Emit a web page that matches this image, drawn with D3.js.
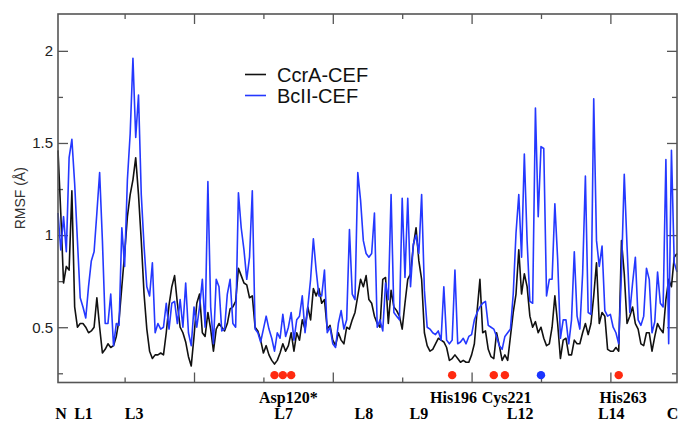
<!DOCTYPE html>
<html>
<head>
<meta charset="utf-8">
<script src="https://cdn.jsdelivr.net/npm/d3@7"></script>
<style>
  body { margin: 0; background: #fff; }
  svg { display: block; }
</style>
</head>
<body>
<script>
// RMSF per residue (residue 1..224)
var ccrA = [
  1.46, 1.12, 0.74, 0.83, 0.81, 1.24, 0.61, 0.50, 0.52, 0.52,
  0.50, 0.47, 0.48, 0.50, 0.66, 0.50, 0.36, 0.38, 0.41, 0.39,
  0.40, 0.45, 0.54, 0.72, 0.90, 1.10, 1.22, 1.30, 1.42, 1.22,
  0.97, 0.68, 0.49, 0.37, 0.33, 0.35, 0.35, 0.36, 0.35, 0.47,
  0.62, 0.72, 0.78, 0.63, 0.50, 0.47, 0.42, 0.34, 0.29, 0.45,
  0.63, 0.68, 0.47, 0.45, 0.58, 0.49, 0.37, 0.49, 0.52, 0.50,
  0.48, 0.52, 0.60, 0.61, 0.64, 0.82, 0.78, 0.74, 0.73, 0.66,
  0.67, 0.50, 0.48, 0.43, 0.36, 0.40, 0.35, 0.32, 0.30, 0.32,
  0.36, 0.41, 0.37, 0.40, 0.47, 0.37, 0.47, 0.43, 0.54, 0.49,
  0.61, 0.54, 0.71, 0.67, 0.71, 0.63, 0.65, 0.49, 0.51, 0.43,
  0.40, 0.47, 0.43, 0.41, 0.50, 0.49, 0.54, 0.58, 0.67, 0.76,
  0.72, 0.78, 0.65, 0.63, 0.56, 0.52, 0.50, 0.76, 0.77, 0.52,
  0.70, 0.61, 0.59, 0.56, 0.49, 0.63, 0.76, 0.79, 0.94, 1.04,
  0.86, 0.76, 0.47, 0.40, 0.37, 0.38, 0.41, 0.44, 0.43, 0.42,
  0.39, 0.32, 0.33, 0.35, 0.33, 0.31, 0.32, 0.31, 0.31, 0.35,
  0.41, 0.59, 0.76, 0.47, 0.48, 0.38, 0.34, 0.33, 0.47, 0.40,
  0.32, 0.35, 0.32, 0.45, 0.58, 0.68, 0.92, 0.68, 0.79, 0.72,
  0.56, 0.50, 0.53, 0.47, 0.50, 0.44, 0.40, 0.41, 0.50, 0.67,
  0.52, 0.33, 0.43, 0.44, 0.35, 0.35, 0.43, 0.41, 0.41, 0.47,
  0.52, 0.46, 0.52, 0.67, 0.85, 0.52, 0.58, 0.56, 0.38, 0.37,
  0.37, 0.39, 0.37, 0.97, 0.79, 0.52, 0.56, 0.61, 0.52, 0.49,
  0.41, 0.40, 0.47, 0.47, 0.37, 0.45, 0.52, 0.49, 0.47, 0.65,
  0.76, 0.72, 0.88, 0.90
];

var bcII = [
  1.12, 0.92, 1.10, 0.91, 1.42, 1.52, 1.28, 0.97, 0.66, 0.61,
  0.55, 0.72, 0.86, 0.91, 1.12, 1.34, 0.97, 0.52, 0.52, 0.68,
  0.40, 0.52, 0.51, 1.04, 0.83, 1.30, 1.55, 1.96, 1.53, 1.76,
  1.22, 0.94, 0.72, 0.67, 0.85, 0.47, 0.52, 0.49, 0.50, 0.63,
  0.49, 0.63, 0.64, 0.52, 0.65, 0.50, 0.74, 0.47, 0.40, 0.61,
  0.50, 0.61, 0.76, 0.50, 1.29, 0.61, 0.41, 0.76, 0.72, 0.48,
  0.49, 0.68, 0.76, 0.52, 0.50, 1.23, 1.04, 0.92, 0.76, 0.88,
  1.24, 0.49, 0.47, 0.42, 0.49, 0.56, 0.49, 0.44, 0.37, 0.47,
  0.44, 0.57, 0.45, 0.50, 0.58, 0.43, 0.54, 0.56, 0.67, 0.47,
  0.61, 0.76, 0.98, 0.81, 0.67, 0.67, 0.81, 0.47, 0.50, 0.41,
  0.39, 0.52, 0.59, 0.49, 0.54, 1.03, 0.68, 0.65, 1.34, 1.19,
  0.97, 0.90, 0.88, 0.90, 1.12, 0.50, 0.54, 0.48, 0.74, 0.65,
  1.22, 0.58, 0.56, 0.54, 1.20, 0.77, 1.20, 0.72, 0.95, 1.00,
  0.90, 1.22, 0.70, 0.50, 0.49, 0.47, 0.46, 0.48, 0.43, 0.72,
  0.43, 0.41, 0.43, 0.81, 0.41, 0.42, 0.44, 0.41, 0.45, 0.46,
  0.54, 0.58, 0.61, 0.63, 0.64, 0.51, 0.50, 0.49, 0.45, 0.40,
  0.38, 0.45, 0.47, 0.49, 0.68, 1.01, 1.22, 0.88, 1.44, 0.97,
  0.64, 0.63, 1.69, 1.10, 1.48, 1.47, 0.67, 0.76, 0.76, 1.17,
  0.87, 0.44, 0.54, 0.54, 0.41, 0.54, 0.91, 0.56, 0.49, 0.79,
  1.32, 0.58, 0.57, 1.74, 0.97, 0.83, 0.94, 0.59, 0.56, 0.57,
  0.50, 0.47, 0.41, 0.80, 1.33, 0.94, 0.58, 0.74, 0.88, 0.54,
  0.51, 0.56, 0.82, 0.76, 0.47, 0.53, 0.80, 0.63, 0.61, 1.41,
  0.41, 1.46, 0.85, 0.80
];

// metal ligand markers (residue index)
var redDots = [79, 82, 85, 143, 158, 162, 203];
var blueDots = [175];

// annotation text under the plot: [text, residue]
var topLabels = [["Asp120*", 84], ["His196", 143.5], ["Cys221", 162.6], ["His263", 204.6]];
var loopLabels = [["N", 2.1], ["L1", 10.2], ["L3", 28.4], ["L7", 82.3], ["L8", 111.2],
                  ["L9", 131], ["L12", 167.5], ["L14", 200.3], ["C", 222.4]];

var yMajor = [0.5, 1, 1.5, 2];
var yMinor = [0.25, 0.75, 1.25, 1.75];
var xMajor = [50, 100, 150, 200];
var xMinor = [25, 75, 125, 175];

var seriesNames = ["CcrA-CEF", "BcII-CEF"];
var seriesColors = ["#111111", "#2438ff"];

/////////////////////////////////////////////////////////////
// chart
var W = 678, H = 423;
var margin = {top: 14, right: 1, bottom: 40.5, left: 58};
var width = W - margin.left - margin.right,
    height = H - margin.top - margin.bottom;

var x = d3.scaleLinear().domain([1, 224]).range([0, width]);
var y = d3.scaleLinear().domain([0.2, 2.2]).range([height, 0]);

var svg = d3.select("body").append("svg")
    .attr("width", W)
    .attr("height", H);

var g = svg.append("g")
    .attr("transform", "translate(" + margin.left + "," + margin.top + ")");

// axes, ticks point inside like grace
function styleAxis(sel) {
    sel.selectAll(".domain").remove();
    sel.selectAll(".tick line").attr("stroke", "#555").attr("stroke-width", 1.3);
}

g.append("g").call(d3.axisLeft(y).tickValues(yMajor).tickSizeInner(-10).tickSizeOuter(0).tickPadding(5)
        .tickFormat(function(d) { return d; }))
    .call(styleAxis)
    .selectAll("text")
    .style("font-family", "'Liberation Sans', Arial, sans-serif")
    .style("font-size", "15px")
    .attr("fill", "#222");

g.append("g").call(d3.axisLeft(y).tickValues(yMinor).tickSizeInner(-5).tickSizeOuter(0).tickFormat(""))
    .call(styleAxis);

g.append("g").attr("transform", "translate(" + width + ",0)")
    .call(d3.axisRight(y).tickValues(yMajor).tickSizeInner(-10).tickSizeOuter(0).tickFormat(""))
    .call(styleAxis);
g.append("g").attr("transform", "translate(" + width + ",0)")
    .call(d3.axisRight(y).tickValues(yMinor).tickSizeInner(-5).tickSizeOuter(0).tickFormat(""))
    .call(styleAxis);

g.append("g").attr("transform", "translate(0," + height + ")")
    .call(d3.axisBottom(x).tickValues(xMajor).tickSizeInner(-10).tickSizeOuter(0).tickFormat(""))
    .call(styleAxis);
g.append("g").attr("transform", "translate(0," + height + ")")
    .call(d3.axisBottom(x).tickValues(xMinor).tickSizeInner(-5).tickSizeOuter(0).tickFormat(""))
    .call(styleAxis);

g.append("g")
    .call(d3.axisTop(x).tickValues(xMajor).tickSizeInner(-10).tickSizeOuter(0).tickFormat(""))
    .call(styleAxis);
g.append("g")
    .call(d3.axisTop(x).tickValues(xMinor).tickSizeInner(-5).tickSizeOuter(0).tickFormat(""))
    .call(styleAxis);

// the lines
var line = d3.line()
    .x(function(d, i) { return x(i + 1); })
    .y(function(d) { return y(d); });

[ccrA, bcII].forEach(function(s, k) {
    g.append("path")
        .datum(s)
        .attr("fill", "none")
        .attr("stroke", seriesColors[k])
        .attr("stroke-width", 1.6)
        .attr("stroke-linejoin", "round")
        .attr("d", line);
});

// frame
g.append("rect")
    .attr("width", width)
    .attr("height", height)
    .attr("fill", "none")
    .attr("stroke", "#555")
    .attr("stroke-width", 1.6);

// ligand dots
g.selectAll(".rdot").data(redDots).enter().append("circle")
    .attr("cx", function(d) { return x(d); })
    .attr("cy", y(0.24))
    .attr("r", 4.2)
    .attr("fill", "#ff2a10");
g.selectAll(".bdot").data(blueDots).enter().append("circle")
    .attr("cx", function(d) { return x(d); })
    .attr("cy", y(0.24))
    .attr("r", 4.2)
    .attr("fill", "#1a34ff");

// legend
var leg = g.selectAll(".leg").data(seriesNames).enter().append("g")
    .attr("transform", function(d, i) { return "translate(187," + (60.5 + i * 21) + ")"; });
leg.append("line")
    .attr("x1", 0).attr("x2", 21)
    .attr("stroke", function(d, i) { return seriesColors[i]; })
    .attr("stroke-width", 1.6);
leg.append("text")
    .attr("x", 32)
    .attr("y", 7)
    .style("font-family", "'Liberation Sans', Arial, sans-serif")
    .style("font-size", "20px")
    .attr("fill", "#111")
    .text(function(d) { return d; });

// y label
svg.append("text")
    .attr("transform", "translate(25," + (margin.top + height / 2) + ") rotate(-90)")
    .attr("text-anchor", "middle")
    .style("font-family", "'Liberation Sans', Arial, sans-serif")
    .style("font-size", "14px")
    .attr("fill", "#333")
    .text("RMSF (\u00c5)");

// residue / loop labels under the axis
var serif = "'Liberation Serif', 'Times New Roman', serif";
svg.selectAll(".tl").data(topLabels).enter().append("text")
    .attr("x", function(d) { return margin.left + x(d[1]); })
    .attr("y", 403)
    .attr("text-anchor", "middle")
    .style("font-family", serif)
    .style("font-weight", "bold")
    .style("font-size", "16px")
    .text(function(d) { return d[0]; });
svg.selectAll(".ll").data(loopLabels).enter().append("text")
    .attr("x", function(d) { return margin.left + x(d[1]); })
    .attr("y", 419)
    .attr("text-anchor", "middle")
    .style("font-family", serif)
    .style("font-weight", "bold")
    .style("font-size", "16px")
    .text(function(d) { return d[0]; });
</script>
</body>
</html>
